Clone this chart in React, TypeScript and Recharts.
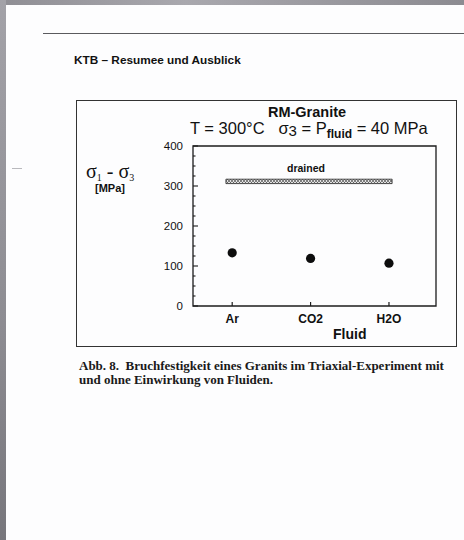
import React from "react";
import {
    ScatterChart,
    Scatter,
    XAxis,
    YAxis,
    ReferenceArea,
} from "recharts";

// fluids tested, in order along the x axis
const fluids = ["Ar", "CO2", "H2O"];
// differential stress at failure (MPa) for each fluid
const strength = [133, 119, 107];
// drained reference band (MPa) and its extent along the fluid axis
const drainedStress = [306, 317];
const drainedExtent = [0.92, 3.04];

const xDomain = [0.5, 3.6];
const yDomain = [0, 400];
// every 25 MPa a tick, every 100 MPa a labelled one
const yTicks = [0, 25, 50, 75, 100, 125, 150, 175, 200, 225, 250, 275, 300, 325, 350, 375, 400];

const points = fluids.map((f, i) => ({ x: i + 1, y: strength[i], fluid: f }));

const ink = "#1c1c1c";
const sans = "Arial, 'Liberation Sans', Helvetica, sans-serif";
const serif = "'Times New Roman', 'Liberation Serif', serif";

const Dot = (props: any) => (
    <circle cx={props.cx} cy={props.cy} r={4.6} fill="#0d0d0d" />
);

// left axis: inward tick + label (x is label position, axis sits tickMargin to the right)
const LeftTick = (props: any) => {
    const { x, y, payload } = props;
    const major = payload.value % 100 === 0;
    const ax = x + 10;
    return (
        <g>
            <line x1={ax} x2={ax + (major ? 5 : 2.5)} y1={y} y2={y} stroke={ink} strokeWidth={1.1} />
            {major && (
                <text x={x} y={y} dy="0.36em" textAnchor="end" fill="#111" fontSize={11.5} fontFamily={sans}>
                    {payload.value}
                </text>
            )}
        </g>
    );
};

// right axis: inward tick only
const RightTick = (props: any) => {
    const { x, y, payload } = props;
    const major = payload.value % 100 === 0;
    return <line x1={x} x2={x - (major ? 5 : 2.5)} y1={y} y2={y} stroke={ink} strokeWidth={1.1} />;
};

// bottom axis: upward tick + bold label
const BottomTick = (props: any) => {
    const { x, y, payload } = props;
    const ay = y - 8;
    return (
        <g>
            <line x1={x} x2={x} y1={ay} y2={ay - 4} stroke={ink} strokeWidth={1.2} />
            <text x={x} y={y} dy="0.71em" textAnchor="middle" fill="#111" fontSize={12} fontWeight={700} fontFamily={sans}>
                {fluids[payload.value - 1]}
            </text>
        </g>
    );
};

const Chart = () => (
    <ScatterChart
        width={380}
        height={246}
        margin={{ top: 46, right: 19, bottom: 0, left: 57 }}
    >
        <defs>
            <pattern id="hatch" width="3" height="3" patternUnits="userSpaceOnUse">
                <rect width="3" height="3" fill="#e2e2e2" />
                <path d="M0,3 L3,0 M0,0 L3,3" stroke="#555" strokeWidth="0.7" />
            </pattern>
        </defs>
        <XAxis
            type="number"
            dataKey="x"
            domain={xDomain}
            ticks={[1, 2, 3]}
            height={40}
            tickSize={0}
            tickMargin={8}
            axisLine={false}
            tickLine={false}
            tick={BottomTick}
            allowDataOverflow
        />
        <YAxis
            type="number"
            dataKey="y"
            domain={yDomain}
            ticks={yTicks}
            width={60}
            tickSize={0}
            tickMargin={10}
            axisLine={false}
            tickLine={false}
            tick={LeftTick}
            interval={0}
        />
        <YAxis
            yAxisId="right"
            orientation="right"
            type="number"
            domain={yDomain}
            ticks={yTicks}
            width={1}
            tickSize={0}
            tickMargin={0}
            axisLine={false}
            tickLine={false}
            tick={RightTick}
            interval={0}
        />
        {/* plot frame */}
        <ReferenceArea
            x1={xDomain[0]}
            x2={xDomain[1]}
            y1={yDomain[0]}
            y2={yDomain[1]}
            fill="none"
            stroke={ink}
            strokeWidth={1.3}
        />
        <ReferenceArea
            x1={drainedExtent[0]}
            x2={drainedExtent[1]}
            y1={drainedStress[0]}
            y2={drainedStress[1]}
            fill="url(#hatch)"
            fillOpacity={1}
            stroke="#222"
            strokeWidth={0.8}
        />
        <Scatter data={points} shape={Dot} isAnimationActive={false} />
    </ScatterChart>
);

export default function App() {
    const abs = (l: number, t: number, extra: React.CSSProperties = {}): React.CSSProperties => ({
        position: "absolute",
        left: l,
        top: t,
        whiteSpace: "nowrap",
        ...extra,
    });
    const sub: React.CSSProperties = { position: "relative", top: 3 };
    return (
        <div
            style={{
                position: "absolute",
                left: 0,
                top: 0,
                width: 464,
                height: 540,
                overflow: "hidden",
                background: "#fdfdfe",
                color: "#111",
                fontFamily: sans,
            }}
        >
            {/* scanner edges */}
            <div style={abs(0, 0, { width: 464, height: 5, background: "linear-gradient(90deg,#8f8e94,#a9a8ae 40%,#8c8b91)" })} />
            <div style={abs(0, 0, { width: 6, height: 540, background: "linear-gradient(180deg,#a3a2a8,#8d8c92 60%,#77767c)" })} />
            <div style={abs(12, 168, { width: 10, height: 1, background: "#b9b9bd" })} />

            {/* page header */}
            <div style={abs(43, 33, { width: 421, height: 1, background: "#5a5a5e" })} />
            <div style={abs(74, 53, { fontSize: 11.8, fontWeight: 700 })}>
                KTB – Resumee und Ausblick
            </div>

            {/* figure frame */}
            <div style={abs(76, 100, { width: 379, height: 245, border: "1px solid #333" })} />

            <div style={abs(76, 100)}>
                <Chart />
            </div>

            {/* titles */}
            <div style={abs(307, 104, { transform: "translateX(-50%)", fontSize: 14.5, fontWeight: 700 })}>
                RM-Granite
            </div>
            <div style={abs(190, 119, { fontSize: 16.5 })}>
                T = 300°C&nbsp;&nbsp;&nbsp;σ<span style={{ fontSize: 15, position: "relative", top: 2 }}>3</span> = P
                <span style={{ fontSize: 12, fontWeight: 700, position: "relative", top: 4 }}>fluid</span> = 40 MPa
            </div>
            <div style={abs(306, 162, { transform: "translateX(-50%)", fontSize: 10.5, fontWeight: 700 })}>
                drained
            </div>

            {/* y axis label */}
            <div style={abs(86, 160, { fontSize: 20, fontFamily: serif })}>
                σ<span style={{ ...sub, fontSize: 10 }}>1</span> - σ<span style={{ ...sub, fontSize: 10 }}>3</span>
            </div>
            <div style={abs(95, 182, { fontSize: 11, fontWeight: 700 })}>[MPa]</div>

            {/* x axis label */}
            <div style={abs(333, 326, { fontSize: 14, fontWeight: 700 })}>Fluid</div>

            {/* caption */}
            <div style={abs(79, 359, { fontFamily: serif, fontSize: 13, fontWeight: 700, lineHeight: "13.5px", color: "#1a1a1a" })}>
                Abb. 8.&nbsp;&nbsp;Bruchfestigkeit eines Granits im Triaxial-Experiment mit
                <br />
                und ohne Einwirkung von Fluiden.
            </div>
        </div>
    );
}
